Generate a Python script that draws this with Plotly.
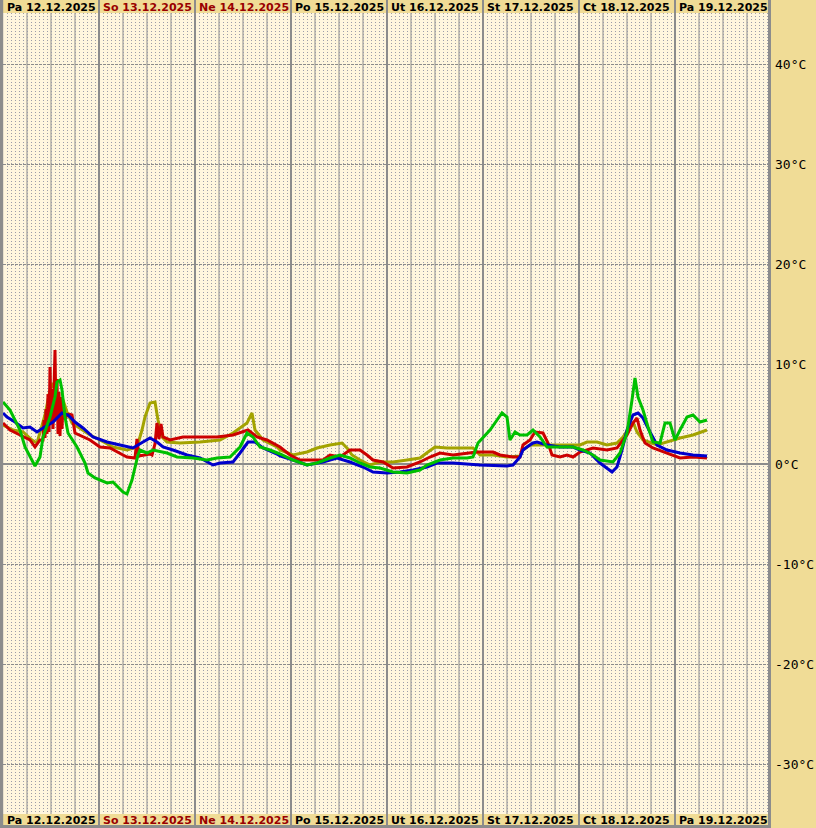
import plotly.graph_objects as go
from datetime import datetime, timedelta

START = datetime(2025, 12, 12)

DAY_NAMES = ["Pa", "So", "Ne", "Po", "Ut", "St", "Ct", "Pa"]
DAY_DATES = ["12.12.2025", "13.12.2025", "14.12.2025", "15.12.2025",
             "16.12.2025", "17.12.2025", "18.12.2025", "19.12.2025"]
WEEKEND = [False, True, True, False, False, False, False, False]

Y_TICKS = [-30, -20, -10, 0, 10, 20, 30, 40]

# hours since 12.12.2025 00:00 / temperature °C
G_H = [0, 1.75, 4.25, 5.5, 8, 9.25, 10, 11.75, 13, 13.5, 14.25, 14.75, 15.5, 16.25, 18.5, 20.5, 21.25, 23, 26, 27.5,
       30, 31, 32.25, 33, 33.75, 34.25, 36, 37.5, 41, 43.5, 47.5, 51, 53.5, 56.75, 59.25, 61, 62.5, 64.25, 66.75, 69.25,
       72.5, 76, 78.5, 81.75, 84.25, 86.75, 89.25, 91.75, 94.25, 97.5, 101, 104.25, 106, 109.25, 112.5, 116, 117.5,
       118.75, 120, 121.75, 123.5, 124.75, 126, 126.75, 128, 129.25, 131, 132.5, 134.25, 136, 139.25, 142.5, 145,
       147.5, 149.25, 152.5, 154.25, 156, 157.25, 158, 158.75, 160, 161.25, 162.5, 164.25, 165.5, 166.75, 168, 169.25,
       171, 172.5, 174.25, 176]
G_T = [6.2, 5.4, 3.4, 1.7, -0.2, 0.7, 2.7, 4.7, 6.7, 8.2, 8.4, 7.4, 4.7, 3.1, 1.7, 0.1, -0.9, -1.4, -1.9, -1.8,
       -2.8, -3.0, -1.6, -0.3, 0.9, 1.4, 1.1, 1.4, 1.1, 0.7, 0.6, 0.4, 0.6, 0.7, 1.7, 3.1, 2.7, 1.7, 1.4, 1.0,
       0.4, -0.1, 0.1, 0.6, 0.9, 0.6, 0.1, -0.3, -0.4, -0.8, -0.9, -0.6, -0.1, 0.4, 0.6, 0.6, 0.7,
       2.1, 2.6, 3.4, 4.4, 5.1, 4.7, 2.4, 3.2, 2.9, 2.9, 3.4, 2.7, 1.7, 1.7, 1.7, 1.4,
       0.9, 0.4, 0.2, 1.1, 3.1, 6.4, 8.6, 6.7, 5.4, 3.7, 2.2, 2.1, 4.1, 4.1, 2.4, 3.4,
       4.7, 4.9, 4.2, 4.4]

B_H = [0, 1, 3, 5, 6.75, 8.5, 10, 12.5, 14.75, 16.25, 18, 20, 22.5, 26, 29.25, 32.5, 35, 36.75, 38.5, 40,
       42.5, 46, 49.25, 52.5, 54.25, 57.5, 59.25, 61.25, 63, 65, 68.5, 69.25, 72.5, 76, 80, 83.5, 86.75, 90, 92.5, 96,
       99.25, 102.5, 106, 108.5, 112.5, 119.25, 126, 127.5, 129.25, 130, 131, 132.5, 133.5, 136, 139.25,
       142.5, 144.25, 146.75, 149.25, 151, 152.25, 153.5, 154.75, 156, 157.5, 158.75, 160, 161.75, 163.5, 166,
       169.25, 172.5, 176]
B_T = [5.1, 4.7, 4.2, 3.6, 3.7, 3.2, 3.6, 4.2, 5.1, 4.9, 4.2, 3.6, 2.7, 2.2, 1.9, 1.6, 2.2, 2.6, 2.2, 1.7,
       1.4, 0.9, 0.6, -0.1, 0.1, 0.2, 1.1, 2.2, 2.2, 1.6, 1.0, 0.8, 0.4, -0.1, 0.2, 0.6, 0.2, -0.3, -0.8, -0.9,
       -0.8, -0.6, -0.3, 0.1, 0.1, -0.1, -0.2, -0.1, 0.7, 1.4, 1.7, 2.1, 2.2, 1.9, 1.7,
       1.7, 1.4, 1.1, 0.1, -0.4, -0.8, -0.3, 1.4, 3.4, 4.9, 5.1, 4.6, 3.2, 1.9, 1.4,
       1.1, 0.9, 0.8]

R_H = [0, 1.75, 4.25, 6.75, 8, 9.25, 10, 10.25, 10.5, 10.75, 11, 11.25, 11.5, 11.75, 12, 12.25, 12.5, 12.75, 13,
       13.25, 13.5, 13.75, 14, 14.25, 14.5, 14.75, 15, 15.5, 16, 16.5, 17.25, 18, 20, 21.75, 24.25, 26.75, 30, 31,
       33, 33.5, 34, 35, 36, 36.75, 37.25, 38, 38.5, 39, 39.5, 40, 41.75, 45, 49.25, 53.5, 57.5, 61.25, 63.5, 66,
       69.25, 71.75, 74.25, 80, 81.75, 84.25, 86.75, 89.25, 91, 92.5, 95, 97.5, 101, 104.25, 106.75, 109.25, 112.5,
       116, 118.5, 122.5, 124.25, 127.5, 129.25, 130, 131.75, 133, 135, 136.25, 137.25, 139.25, 141, 142.5, 144.25,
       147.5, 151, 153.5, 154.75, 156, 157.5, 158.5, 159.25, 160.5, 162.5, 166, 169.25, 172.5, 176]
R_T = [4.1, 3.4, 2.9, 2.4, 1.7, 2.4, 2.4, 4.4, 2.6, 5.5, 3.0, 7.0, 3.2, 9.7, 4.0, 7.5, 3.5, 8.0, 11.4,
       4.5, 8.5, 3.0, 7.2, 2.8, 6.7, 3.5, 6.0, 4.5, 4.9, 5.0, 4.9, 3.1, 2.7, 2.4, 1.7, 1.6, 0.9, 0.7,
       0.6, 2.5, 0.8, 0.9, 1.0, 1.0, 0.9, 2.0, 4.1, 2.5, 4.0, 2.7, 2.4, 2.7, 2.7, 2.7, 2.9, 3.4, 2.7, 2.4,
       1.7, 0.9, 0.4, 0.4, 0.9, 0.7, 1.4, 1.4, 0.9, 0.4, 0.2, -0.4, -0.3, 0.2, 0.7, 1.1, 0.9,
       1.1, 1.2, 1.2, 0.9, 0.7, 0.7, 1.9, 2.4, 3.2, 3.1, 2.1, 0.9, 0.7, 0.9, 0.7, 1.2,
       1.6, 1.4, 1.6, 2.2, 2.9, 4.1, 4.6, 3.4, 2.1, 1.6, 1.1, 0.6, 0.7, 0.6]

O_H = [0, 2.5, 5, 7.25, 8.5, 9.75, 10.5, 11.75, 12.5, 13.5, 14.25, 15, 16, 17.25, 19.25, 21.75, 24.25, 27.5, 31,
       33.5, 34.75, 35.5, 36.75, 38, 38.75, 39.75, 41, 44.25, 49.25, 54.25, 57.5, 61, 62.25, 63, 65, 68.5, 69.25,
       72.5, 76, 78.5, 81.75, 84.75, 86, 87.25, 89.25, 91.75, 94.25, 97.5, 101, 104.25, 106.25, 108, 111, 117.5,
       119.25, 122.5, 126, 129.25, 130, 131.75, 137.5, 144.25, 146, 148.5, 151, 153.5, 155, 156.75, 157.5, 158.5,
       160, 163.5, 166, 169.25, 172.5, 176]
O_T = [3.9, 3.4, 3.2, 2.4, 2.1, 3.7, 4.9, 7.4, 8.1, 6.9, 5.7, 6.4, 5.2, 4.1, 3.6, 2.9, 2.4, 1.7, 1.4,
       1.7, 3.4, 4.7, 6.1, 6.2, 4.4, 2.7, 2.2, 2.1, 2.2, 2.4, 3.1, 4.1, 5.1, 3.4, 2.4, 1.7, 1.4,
       0.9, 1.2, 1.6, 1.9, 2.1, 1.6, 0.9, 0.4, -0.1, 0.2, 0.2, 0.4, 0.6, 1.2, 1.7, 1.6, 1.6,
       0.9, 0.9, 0.7, 0.8, 1.4, 1.9, 1.9, 1.9, 2.2, 2.2, 1.9, 2.1, 2.7, 3.7, 4.2, 3.2,
       2.4, 1.9, 2.2, 2.6, 2.9, 3.4]

SERIES = [
    (O_H, O_T, "#A3A300"),
    (R_H, R_T, "#CC0000"),
    (B_H, B_T, "#0000CC"),
    (G_H, G_T, "#00C000"),
]

BAND = "#F0DC96"
CREAM = "#FFF6DE"
GRAY = "#8C8C8C"
DOT = "#9C9CA8"

PW, PH = 768, 801  # plot area in px


def to_dt(hours):
    return [START + timedelta(hours=h) for h in hours]


fig = go.Figure()
for hs, ts, col in SERIES:
    fig.add_trace(go.Scatter(x=to_dt(hs), y=ts, mode="lines",
                             line=dict(color=col, width=3), hoverinfo="skip"))

shapes = []
top_ext = 1 + 13 / PH
bot_ext = -14 / PH
ndays = len(DAY_NAMES)
for k in range(ndays):
    d0 = START + timedelta(days=k)
    if k > 0:
        shapes.append(dict(type="line", xref="x", yref="paper", x0=d0, x1=d0,
                           y0=bot_ext, y1=top_ext, line=dict(color=GRAY, width=2), layer="below"))
    for h in (6, 12, 18):
        t = d0 + timedelta(hours=h)
        shapes.append(dict(type="line", xref="x", yref="paper", x0=t, x1=t,
                           y0=0, y1=1, line=dict(color=GRAY, width=1), layer="below"))
# outer borders
shapes.append(dict(type="rect", xref="paper", yref="paper", x0=-3 / PW, x1=0.2 / PW,
                   y0=bot_ext, y1=top_ext, fillcolor=GRAY, line=dict(width=0), layer="below"))
shapes.append(dict(type="rect", xref="paper", yref="paper", x0=1 - 3 / PW, x1=1,
                   y0=bot_ext, y1=top_ext, fillcolor=GRAY, line=dict(width=0), layer="below"))
shapes.append(dict(type="rect", xref="paper", yref="paper", x0=-3 / PW, x1=1,
                   y0=bot_ext, y1=bot_ext + 3 / PH, fillcolor=GRAY, line=dict(width=0), layer="below"))

annotations = []
for k in range(ndays):
    d0 = START + timedelta(days=k)
    col = "#990000" if WEEKEND[k] else "#000000"
    txt = f"{DAY_NAMES[k]} {DAY_DATES[k]}"
    for y, ys in ((1, 6), (0, -6)):
        annotations.append(dict(x=d0, xref="x", y=y, yref="paper", text=txt, showarrow=False,
                                xanchor="left", yanchor="middle", xshift=2, yshift=ys,
                                font=dict(family="DejaVu Sans", size=11, color=col, weight="bold")))

fig.update_layout(
    template="none",
    width=816, height=828,
    margin=dict(l=3, r=45, t=13, b=14, pad=0, autoexpand=False),
    paper_bgcolor=BAND, plot_bgcolor=CREAM,
    showlegend=False, hovermode=False,
    shapes=shapes, annotations=annotations,
)
fig.update_xaxes(
    range=[START, START + timedelta(days=ndays)], automargin=False,
    showticklabels=False, ticks="", showgrid=False, zeroline=False, showline=False,
    dtick=86400000,
    minor=dict(dtick=3600000, showgrid=True, gridcolor=DOT, gridwidth=1, griddash="1px,2px", ticks=""),
)
fig.update_yaxes(
    range=[-35.0, 45.1], side="right", automargin=False,
    tickvals=Y_TICKS, ticktext=[f"{v}°C" for v in Y_TICKS],
    showgrid=True, gridcolor=GRAY, gridwidth=1, griddash="3px,1px",
    zeroline=True, zerolinecolor=GRAY, zerolinewidth=2,
    ticks="", showline=False, ticklabelstandoff=3,
    tickfont=dict(family="DejaVu Sans Mono", size=13, color="#000000"),
)

fig.write_html(
    "out.html",
    config={"displayModeBar": False},
    post_script="document.body.style.margin='0';document.body.style.background='%s';" % BAND,
)
